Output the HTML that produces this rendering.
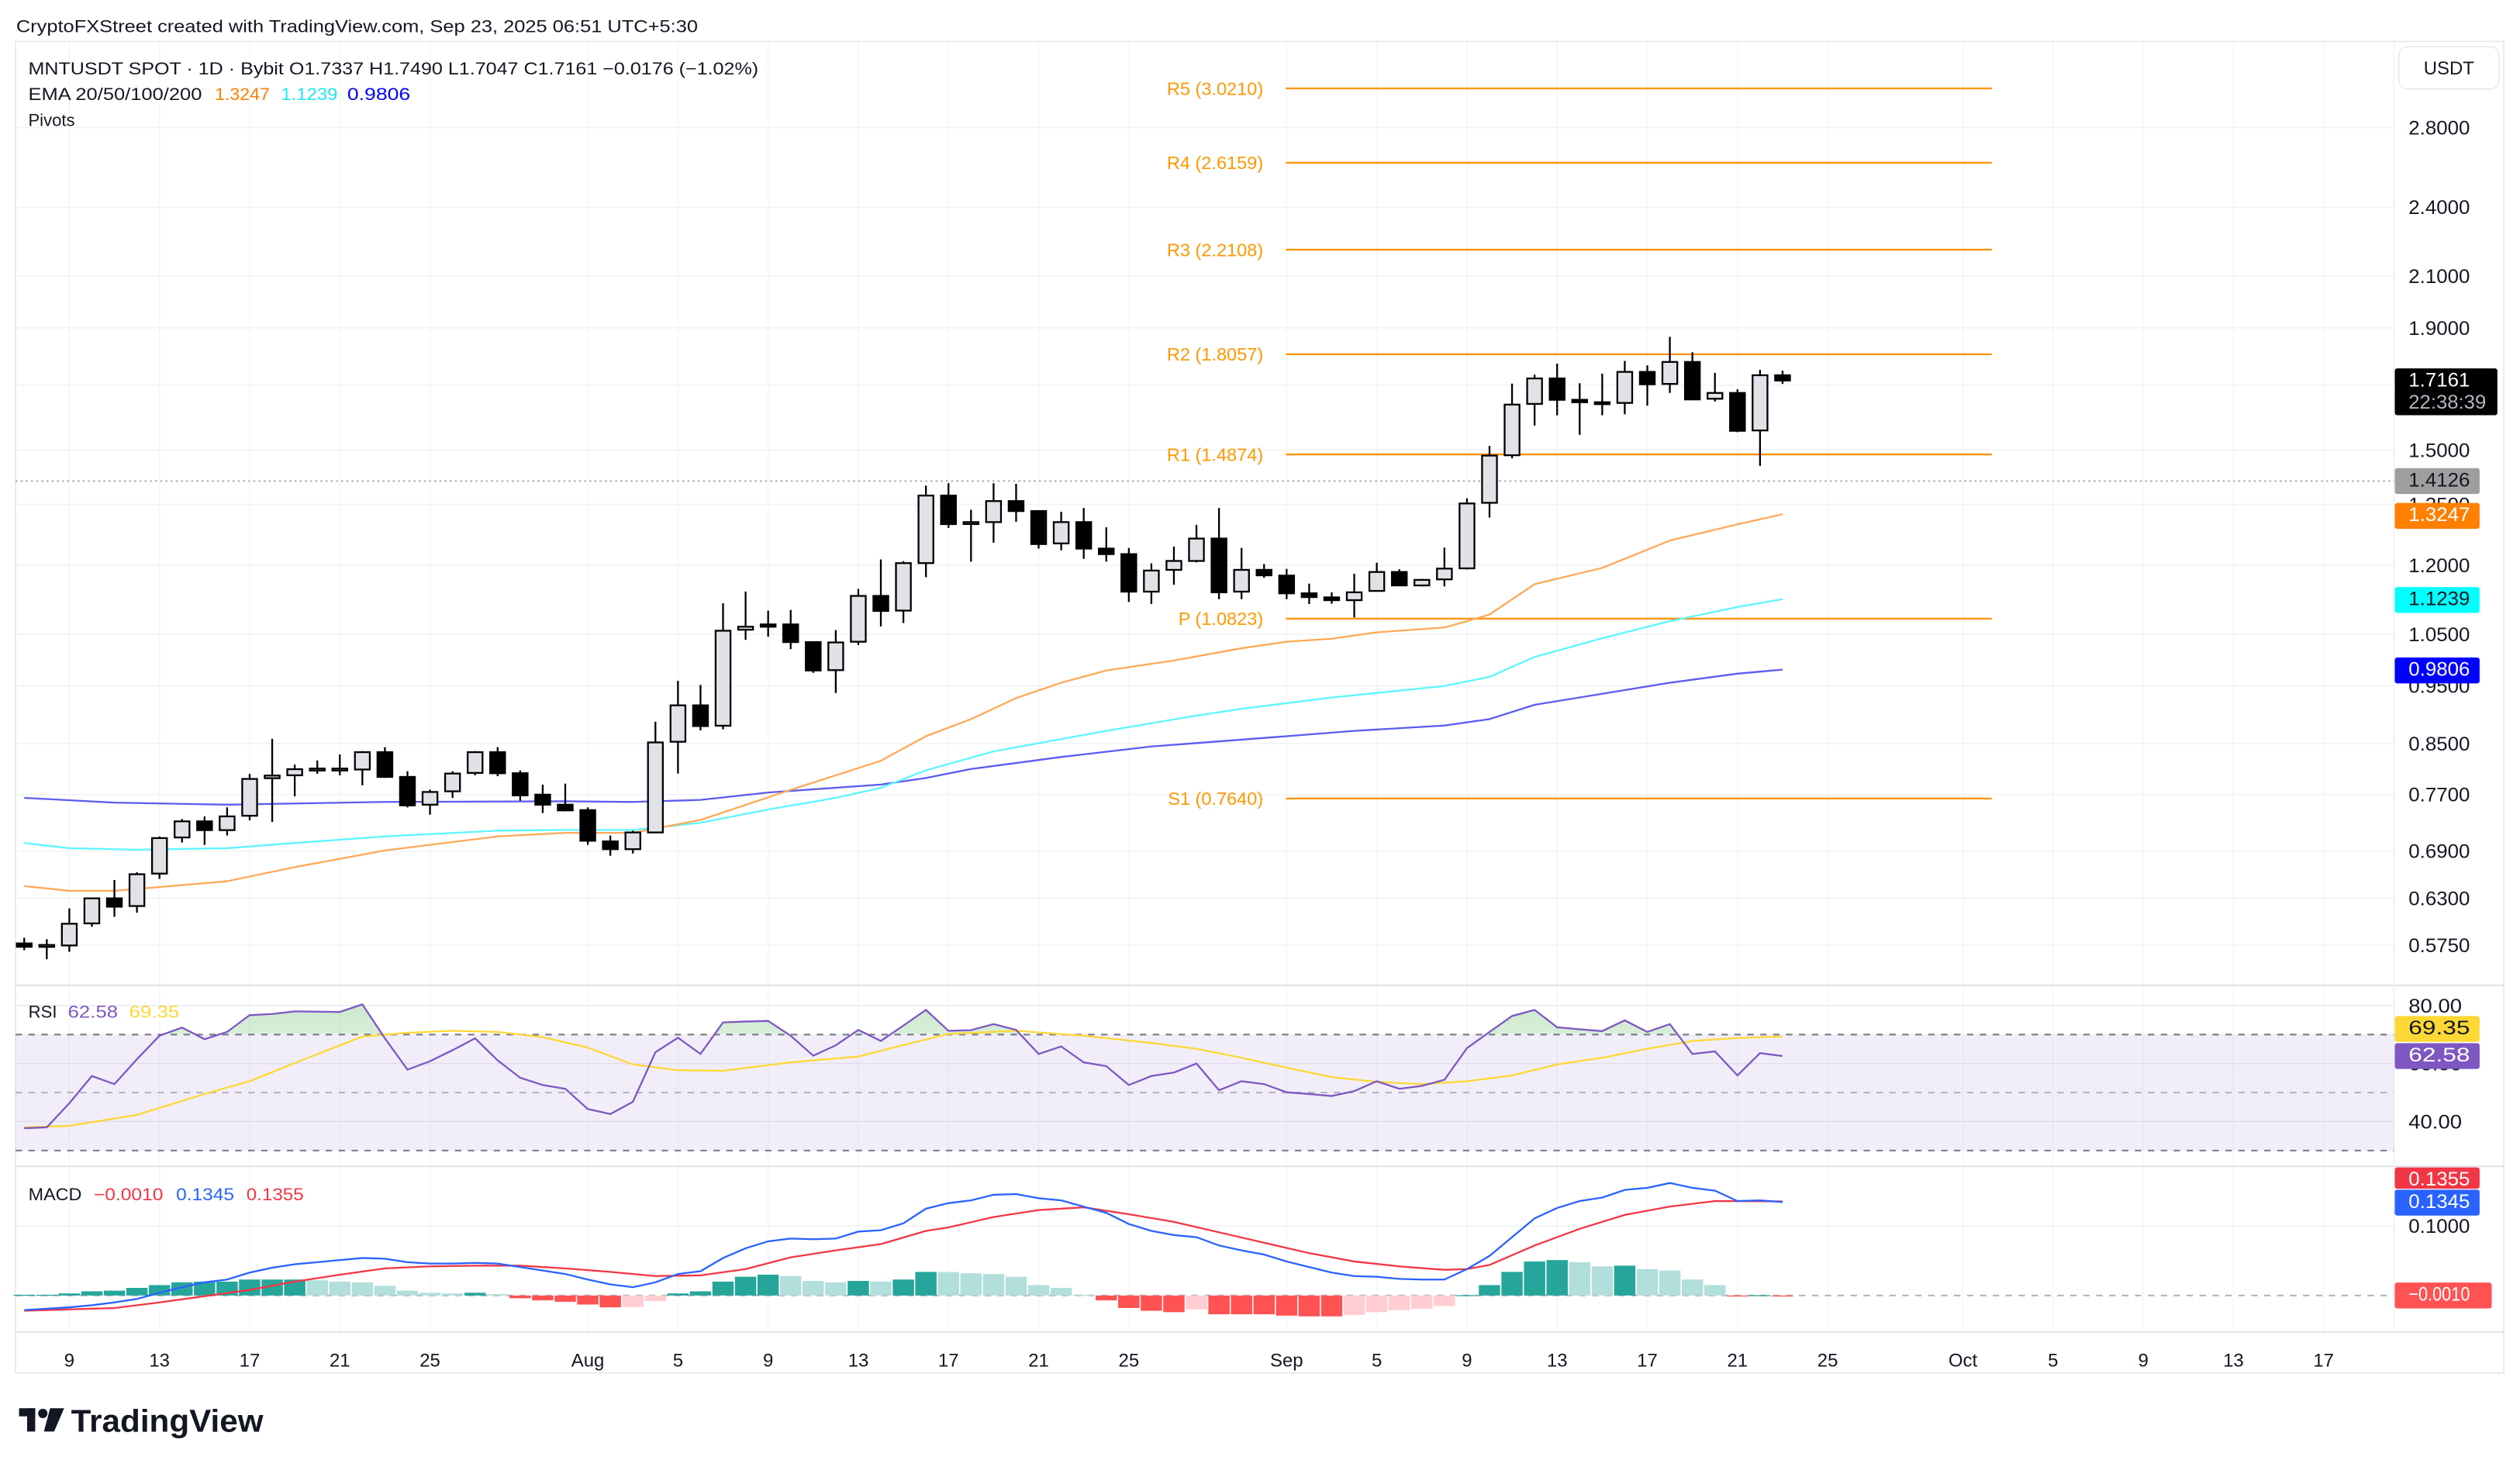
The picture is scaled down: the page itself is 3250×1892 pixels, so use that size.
<!DOCTYPE html>
<html><head><meta charset="utf-8"><title>MNTUSDT chart</title>
<style>
html,body{margin:0;padding:0;background:#fff;}
svg{display:block;font-family:"Liberation Sans",Arial,sans-serif;}
</style></head>
<body>
<svg id="chart" xmlns="http://www.w3.org/2000/svg" width="3250" height="1892" viewBox="0 0 1560 908.16" preserveAspectRatio="none">
<defs>
<linearGradient id="rsiGreen" x1="0" y1="0" x2="0" y2="1">
<stop offset="0" stop-color="#4caf50" stop-opacity="0.28"/>
<stop offset="1" stop-color="#4caf50" stop-opacity="0.02"/>
</linearGradient>
<clipPath id="priceClip"><rect x="9.6" y="25.6" width="1472.4" height="584.4"/></clipPath>
<clipPath id="rsiAbove"><rect x="9.6" y="610" width="1472.4" height="30.2"/></clipPath>
</defs>
<rect x="0" y="0" width="1560" height="908.16" fill="#ffffff"/>
<text x="10" y="20" font-size="10.6" fill="#131722" textLength="422" lengthAdjust="spacingAndGlyphs">CryptoFXStreet created with TradingView.com, Sep 23, 2025 06:51 UTC+5:30</text>
<g id="grid"></g>
<g id="panes"></g>
<g id="price" clip-path="url(#priceClip)"></g>
<g id="rsi"></g>
<g id="macd"></g>
<g id="axes"></g>
<g>
<text x="17.5" y="46" font-size="10.6" fill="#131722" textLength="452" lengthAdjust="spacingAndGlyphs">MNTUSDT SPOT · 1D · Bybit  O1.7337  H1.7490  L1.7047  C1.7161  −0.0176 (−1.02%)</text>
<text x="17.5" y="62" font-size="10.6" fill="#131722" textLength="107.5" lengthAdjust="spacingAndGlyphs">EMA 20/50/100/200</text>
<text x="133" y="62" font-size="10.6" fill="#ff8000" textLength="34" lengthAdjust="spacingAndGlyphs">1.3247</text>
<text x="174" y="62" font-size="10.6" fill="#1de9f0" textLength="35" lengthAdjust="spacingAndGlyphs">1.1239</text>
<text x="215" y="62" font-size="10.6" fill="#0000ff" textLength="39" lengthAdjust="spacingAndGlyphs">0.9806</text>
<text x="17.5" y="78" font-size="10.6" fill="#131722">Pivots</text>
</g>
<g>
<text x="17.6" y="630" font-size="10.6" fill="#131722">RSI</text>
<text x="42" y="630" font-size="10.6" fill="#7e57c2" textLength="31" lengthAdjust="spacingAndGlyphs">62.58</text>
<text x="80" y="630" font-size="10.6" fill="#fdd835" textLength="31" lengthAdjust="spacingAndGlyphs">69.35</text>
</g>
<g>
<text x="17.6" y="743" font-size="10.6" fill="#131722" textLength="33" lengthAdjust="spacingAndGlyphs">MACD</text>
<text x="58" y="743" font-size="10.6" fill="#f23645" textLength="43" lengthAdjust="spacingAndGlyphs">−0.0010</text>
<text x="109" y="743" font-size="10.6" fill="#2962ff" textLength="36" lengthAdjust="spacingAndGlyphs">0.1345</text>
<text x="152.5" y="743" font-size="10.6" fill="#f23645" textLength="35.5" lengthAdjust="spacingAndGlyphs">0.1355</text>
</g>
<g>
<rect x="1485" y="29" width="62" height="26" rx="5" fill="#fff" stroke="#e0e3eb" stroke-width="0.6"/>
<text x="1516" y="46" font-size="11.5" text-anchor="middle" fill="#131722">USDT</text>
</g>
<g>
<rect x="11.8" y="871.8" width="10" height="5" fill="#131722"/>
<rect x="16.8" y="871.8" width="5" height="14.4" fill="#131722"/>
<circle cx="26.5" cy="875" r="2.9" fill="#131722"/>
<polygon points="31,871.8 39.7,871.8 33.5,886.2 27.2,886.2" fill="#131722"/>
<text x="44" y="886.2" font-size="19.5" font-weight="bold" fill="#131722" textLength="119" lengthAdjust="spacingAndGlyphs">TradingView</text>
</g>
<g id="tags"></g>
</svg>
<script>
// ---------- DATA ----------
const opens = [.5772,.5753,.5749,.6000,.6298,.6205,.6607,.7086,.7310,.7187,
.7390,.7947,.7992,.8097,.8097,.8082,.8358,.7967,.7550,.7748,
.8029,.8358,.8024,.7698,.7550,.7471,.7032,.6927,.7155,.8528,
.9151,.8797,1.0594,1.0703,1.0703,1.0343,.9796,1.0350,1.1310,1.0993,
1.2052,1.3735,1.3047,1.3047,1.3589,1.3329,1.2520,1.3047,1.2395,1.2263,
1.1404,1.1895,1.2102,1.2638,1.1404,1.1895,1.1763,1.1367,1.1278,1.1217,
1.1420,1.1846,1.1542,1.1678,1.1930,1.3544,1.4850,1.6401,1.7230,1.6532,
1.6455,1.6433,1.7450,1.7048,1.7789,1.6566,1.6753,1.5580,1.7337];
const closes = [.5734,.5755,.5996,.6298,.6197,.6599,.7077,.7310,.7187,.7381,
.7936,.7988,.8087,.8097,.8097,.8358,.7967,.7540,.7738,.8019,
.8358,.8024,.7688,.7550,.7467,.7041,.6927,.7155,.8517,.9151,
.8791,1.0573,1.0655,1.0655,1.0343,.9790,1.0336,1.1310,1.0986,1.2051,
1.3735,1.2996,1.3047,1.3589,1.3329,1.2504,1.3047,1.2395,1.2263,1.1404,
1.1879,1.2102,1.2638,1.1389,1.1895,1.1769,1.1367,1.1284,1.1217,1.1389,
1.1846,1.1542,1.1666,1.1924,1.3526,1.4840,1.6379,1.7230,1.6532,1.6455,
1.6433,1.7450,1.7037,1.7789,1.6544,1.6753,1.5569,1.7337,1.7161];
const highs = [.5835,.5820,.6177,.6298,.6526,.6624,.7100,.7343,.7381,.7511,
.8014,.8577,.8160,.8224,.8321,.8375,.8439,.8055,.7773,.8055,
.8375,.8439,.8067,.7849,.7864,.7511,.7113,.7178,.8865,.9594,
.9520,1.1149,1.1406,1.0993,1.1007,1.0343,1.0586,1.1465,1.2137,1.2097,
1.4003,1.4069,1.3364,1.4069,1.4050,1.3329,1.3311,1.3410,1.2917,1.2411,
1.2045,1.2444,1.2978,1.3410,1.2411,1.2029,1.1917,1.1582,1.1389,1.1806,
1.2062,1.1909,1.1690,1.2419,1.3662,1.5120,1.7058,1.7356,1.7730,1.7070,
1.7391,1.7825,1.7671,1.8678,1.8126,1.7415,1.6877,1.7519,1.7490];
const lows = [.5696,.5598,.5678,.5961,.6077,.6125,.6540,.7017,.6985,.7113,
.7324,.7301,.7673,.8014,.7992,.7839,.7952,.7510,.7405,.7649,
.7992,.7978,.7609,.7429,.7452,.6985,.6839,.6869,.7155,.8019,
.8717,.8735,1.0389,1.0451,1.0203,.9745,.9373,1.0282,1.0662,1.0731,
1.1729,1.2902,1.2085,1.2537,1.3057,1.2395,1.2354,1.2151,1.2085,1.1178,
1.1134,1.1558,1.2068,1.1239,1.1239,1.1712,1.1239,1.1134,1.1140,1.0849,
1.1404,1.1536,1.1519,1.1519,1.1903,1.3162,1.4761,1.5727,1.6044,1.5447,
1.6044,1.6075,1.6347,1.6753,1.6522,1.6478,1.5528,1.4546,1.7047];

const ema20Idx = [0,2,4,9,12,16,21,24,27,30,34,38,40,42,44,46,48,51,54,56,58,60,63,64,65,67,70,73,76,78];
const ema20Val = [0.645,0.639,0.639,0.651,0.669,0.691,0.710,0.715,0.715,0.733,0.777,0.822,0.862,0.891,0.928,0.956,0.979,0.998,1.022,1.035,1.041,1.054,1.064,1.077,1.091,1.157,1.194,1.259,1.299,1.3247];
const ema50Idx = [0,2,5,9,12,16,21,24,27,30,33,36,38,40,43,48,52,54,58,63,65,67,70,73,76,78];
const ema50Val = [0.701,0.694,0.692,0.694,0.701,0.710,0.718,0.719,0.719,0.729,0.748,0.765,0.780,0.807,0.837,0.871,0.897,0.909,0.929,0.950,0.967,1.005,1.042,1.077,1.107,1.1239];
const ema100Idx = [0,4,9,16,24,27,30,33,38,40,42,46,50,56,59,63,65,67,73,76,78];
const ema100Val = [0.765,0.758,0.755,0.759,0.760,0.759,0.762,0.773,0.785,0.795,0.809,0.828,0.845,0.862,0.871,0.880,0.891,0.916,0.956,0.973,0.9806];

const pivotNames = ['R5','R4','R3','R2','R1','P','S1'];
const pivotVals = [3.0210,2.6159,2.2108,1.8057,1.4874,1.0823,0.7640];

const rsiVals = [37.7,38.0,46.3,55.7,52.9,61.5,69.6,72.4,68.4,70.9,
76.7,77.1,78.0,77.9,77.8,80.4,68.7,57.9,60.8,64.6,
68.7,61.1,55.1,52.6,51.3,44.3,42.6,46.8,63.9,68.9,
63.3,74.2,74.5,74.7,69.6,62.7,66.3,71.6,67.8,73.1,
78.5,71.3,71.5,73.6,71.6,63.3,65.9,60.4,59.1,52.6,
55.7,56.9,60.0,50.8,53.9,52.9,50.1,49.5,48.8,50.5,
53.9,51.3,52.3,54.4,65.3,70.9,76.4,78.5,72.5,71.8,
71.2,74.9,70.9,73.6,63.3,64.2,55.9,63.6,62.58];
const rsiMaIdx = [0,2,5,8,10,12,15,17,19,21,23,25,27,29,31,34,37,39,41,44,47,50,52,54,56,58,60,62,64,66,68,70,72,74,76,78];
const rsiMaVal = [38.0,38.5,42.3,49.5,53.9,60.2,69.3,70.6,71.3,70.9,69.1,65.5,59.7,57.7,57.5,60.4,62.4,66.4,70.2,71.3,69.6,67.1,65.1,62.0,58.6,55.3,53.7,52.9,53.9,55.9,59.7,62.0,65.1,67.8,68.8,69.35];

const macdVals = [-0.021,-0.019,-0.017,-0.014,-0.010,-0.005,0.004,0.012,0.019,0.023,
0.033,0.040,0.045,0.048,0.051,0.054,0.053,0.048,0.046,0.046,
0.047,0.046,0.041,0.036,0.031,0.023,0.016,0.012,0.019,0.031,
0.035,0.054,0.068,0.078,0.082,0.081,0.082,0.092,0.094,0.104,
0.125,0.133,0.137,0.145,0.146,0.140,0.137,0.128,0.119,0.103,
0.093,0.087,0.084,0.072,0.065,0.059,0.049,0.041,0.033,0.028,
0.027,0.024,0.023,0.023,0.038,0.057,0.084,0.111,0.126,0.136,
0.141,0.152,0.155,0.162,0.155,0.151,0.136,0.137,0.1345];
const signalIdx = [0,4,6,8,10,12,14,16,18,20,22,24,26,28,30,32,34,36,38,40,41,43,45,47,49,51,53,55,57,59,61,63,64,65,67,69,71,73,75,78];
const signalVal = [-0.022,-0.018,-0.010,-0.001,0.008,0.020,0.030,0.039,0.042,0.043,0.043,0.039,0.034,0.028,0.029,0.038,0.055,0.065,0.074,0.093,0.098,0.113,0.123,0.127,0.117,0.106,0.091,0.076,0.061,0.049,0.042,0.037,0.038,0.044,0.072,0.096,0.116,0.128,0.136,0.1355];
const histVals = [0.001,0.001,0.003,0.006,0.007,0.011,0.015,0.019,0.020,0.020,
0.023,0.023,0.023,0.022,0.020,0.019,0.014,0.007,0.004,0.003,
0.004,0.002,-0.004,-0.007,-0.009,-0.013,-0.017,-0.0165,-0.008,0.003,
0.006,0.020,0.027,0.030,0.028,0.021,0.019,0.021,0.020,0.023,
0.034,0.0338,0.032,0.031,0.027,0.015,0.011,0.001,-0.007,-0.018,
-0.022,-0.024,-0.020,-0.027,-0.027,-0.027,-0.029,-0.030,-0.030,-0.028,
-0.024,-0.021,-0.019,-0.015,0.0005,0.015,0.034,0.049,0.051,0.048,
0.042,0.043,0.038,0.036,0.023,0.015,-0.0005,0.0005,-0.001];

const priceTicks = [2.8,2.4,2.1,1.9,1.7,1.5,1.35,1.2,1.05,0.95,0.85,0.77,0.69,0.63,0.575];
const rsiTicks = [80,60,40];
const macdTicks = [0.1];
const timeLabels = ['9','13','17','21','25','Aug','5','9','13','17','21','25','Sep','5','9','13','17','21','25','Oct','5','9','13','17'];
const timeIdx = [2,6,10,14,18,25,29,33,37,41,45,49,56,60,64,68,72,76,80,86,90,94,98,102];
const lastClose = 1.7161;
const refLine = 1.4126;

// ---------- AXES ----------
const NS = 'http://www.w3.org/2000/svg';
const L = 9.6, R = 1482, RIGHT = 1550;
const xOf = i => 15 + i * 13.955;
const LN28 = Math.log(2.8);
const yPrice = p => 79 + (LN28 - Math.log(p)) * 319.8;
const yRsi = v => 622.5 + (80 - v) * 1.795;
const yMacd = v => 802 - v * 430;

function mk(tag, attrs, parent) {
  const e = document.createElementNS(NS, tag);
  for (const k in attrs) e.setAttribute(k, attrs[k]);
  parent.appendChild(e);
  return e;
}
const G = id => document.getElementById(id);
const grid = G('grid'), panes = G('panes'), price = G('price'), rsi = G('rsi'), macd = G('macd'), axes = G('axes'), tags = G('tags');

timeIdx.forEach((d, k) => {
  const x = xOf(d);
  if (x > R) return;
  const el = mk('line', {x1: x, x2: x, y1: 25.6, y2: 824.7, stroke: '#f4f5f7', 'stroke-width': 0.7}, grid);
  
  
});
priceTicks.forEach(p => {
  const y = yPrice(p);
  const el = mk('line', {x1: L, x2: R, y1: y, y2: y, stroke: '#f2f3f5', 'stroke-width': 0.8}, grid);
  
  
  const t = mk('text', {x: 1491, y: y + 4.3, 'font-size': 12, fill: '#131722', textLength: 38, lengthAdjust: 'spacingAndGlyphs'}, axes);
  t.textContent = p.toFixed(4);
  
  
});
rsiTicks.forEach(v => {
  const y = yRsi(v);
  const el = mk('line', {x1: L, x2: R, y1: y, y2: y, stroke: '#ececf2', 'stroke-width': 0.8}, grid);
  
  
  const t = mk('text', {x: 1491, y: y + 4.3, 'font-size': 12, fill: '#131722', textLength: 33, lengthAdjust: 'spacingAndGlyphs'}, axes);
  t.textContent = v.toFixed(2);
  
  
});
macdTicks.forEach(v => {
  const y = yMacd(v);
  const el = mk('line', {x1: L, x2: R, y1: y, y2: y, stroke: '#f2f3f5', 'stroke-width': 0.8}, grid);
  
  
  const t = mk('text', {x: 1491, y: y + 4.3, 'font-size': 12, fill: '#131722', textLength: 38, lengthAdjust: 'spacingAndGlyphs'}, axes);
  t.textContent = v.toFixed(4);
  
  
});
timeIdx.forEach((d, k) => {
  const t = mk('text', {x: xOf(d), y: 846, 'font-size': 11.5, fill: '#131722', 'text-anchor': 'middle'}, axes);
  t.textContent = timeLabels[k];
  
  
});

{
  const el = mk('rect', {x: L, y: 25.6, width: RIGHT - L, height: 850 - 25.6, fill: 'none', stroke: '#e6e8ee', 'stroke-width': 0.8}, panes);
  
  
}
[610, 722, 824.7].forEach(y => {
  const el = mk('line', {x1: L, x2: RIGHT, y1: y, y2: y, stroke: '#e0e3eb', 'stroke-width': 1}, panes);
  
  
});
{
  const el = mk('line', {x1: R, x2: R, y1: 25.6, y2: 824.7, stroke: '#eef0f3', 'stroke-width': 0.8}, panes);
  
  
}

// ---------- PRICE PANE ----------
{
  const y = yPrice(refLine);
  const el = mk('line', {x1: L, x2: R, y1: y, y2: y, stroke: '#9598a1', 'stroke-width': 0.8, 'stroke-dasharray': '1.2 2'}, price);
  
  
}
pivotVals.forEach((v, k) => {
  const y = yPrice(v);
  const ln = mk('line', {x1: 796, x2: 1233, y1: y, y2: y, stroke: '#ff9100', 'stroke-width': 1.1}, price);
  
  
  const t = mk('text', {x: 782, y: y + 4, 'font-size': 11.3, fill: '#ff9800', 'text-anchor': 'end'}, price);
  t.textContent = pivotNames[k] + ' (' + v.toFixed(4) + ')';
  
  
});
function linePath(idx, val, yf) {
  return idx.map((d, k) => (k ? 'L' : 'M') + xOf(d).toFixed(2) + ' ' + yf(val[k]).toFixed(2)).join(' ');
}
[[ema100Idx, ema100Val, '#5b5bf2', 'ema100-line'], [ema50Idx, ema50Val, '#5ef6ff', 'ema50-line'], [ema20Idx, ema20Val, '#ffa858', 'ema20-line']].forEach(([ix, vs, c, n]) => {
  const el = mk('path', {d: linePath(ix, vs, yPrice), fill: 'none', stroke: c, 'stroke-width': 1.1, 'stroke-linejoin': 'round'}, price);
  
  
});
opens.forEach((o, i) => {
  const c = closes[i], x = xOf(i);
  const up = c >= o;
  const w = mk('line', {x1: x, x2: x, y1: yPrice(highs[i]), y2: yPrice(lows[i]), stroke: '#000', 'stroke-width': 1.1}, price);
  
  
  const yt = yPrice(Math.max(o, c)), yb = yPrice(Math.min(o, c));
  const b = mk('rect', {x: x - 4.6, y: yt, width: 9.2, height: Math.max(yb - yt, 1.2), fill: up ? '#e0e2e8' : '#000', stroke: '#000', 'stroke-width': 1.1}, price);
  
  
});

// ---------- RSI PANE ----------
{
  const band = mk('rect', {x: L, y: yRsi(70), width: R - L, height: yRsi(30) - yRsi(70), fill: '#7e57c2', 'fill-opacity': 0.1}, rsi);
  
  
  [[70, '#787b86', 'rsi-upper-band'], [50, '#b2b5be', 'rsi-middle-band'], [30, '#787b86', 'rsi-lower-band']].forEach(([v, c, n]) => {
    const el = mk('line', {x1: L, x2: R, y1: yRsi(v), y2: yRsi(v), stroke: c, 'stroke-width': 1, 'stroke-dasharray': '4 4'}, rsi);
    
    
  });
  const pts = rsiVals.map((v, i) => xOf(i).toFixed(2) + ',' + yRsi(v).toFixed(2));
  const y70 = yRsi(70);
  const fillPts = xOf(0) + ',' + y70 + ' ' + pts.join(' ') + ' ' + xOf(rsiVals.length - 1) + ',' + y70;
  const gf = mk('polygon', {points: fillPts, fill: 'url(#rsiGreen)', 'clip-path': 'url(#rsiAbove)'}, rsi);
  
  
  const ma = mk('path', {d: linePath(rsiMaIdx, rsiMaVal, yRsi), fill: 'none', stroke: '#fdd835', 'stroke-width': 1.1}, rsi);
  
  
  const ln = mk('polyline', {points: pts.join(' '), fill: 'none', stroke: '#7e57c2', 'stroke-width': 1.1}, rsi);
  
  
}

// ---------- MACD PANE ----------
{
  const z = mk('line', {x1: L, x2: R, y1: yMacd(0), y2: yMacd(0), stroke: '#b2b5be', 'stroke-width': 1, 'stroke-dasharray': '4 4'}, macd);
  
  
  histVals.forEach((h, i) => {
    const prev = i ? histVals[i - 1] : 0;
    let col;
    if (h >= 0) col = h >= prev ? '#26a69a' : '#b2dfdb';
    else col = h <= prev ? '#ff5252' : '#ffcdd2';
    const y0 = yMacd(0), y1 = yMacd(h);
    const r = mk('rect', {x: xOf(i) - 6.6, y: Math.min(y0, y1), width: 13.2, height: Math.max(Math.abs(y1 - y0), 0.6), fill: col}, macd);
    
    
  });
  const sg = mk('path', {d: linePath(signalIdx, signalVal, yMacd), fill: 'none', stroke: '#f23645', 'stroke-width': 1.1}, macd);
  
  
  const ml = mk('polyline', {points: macdVals.map((v, i) => xOf(i).toFixed(2) + ',' + yMacd(v).toFixed(2)).join(' '), fill: 'none', stroke: '#2962ff', 'stroke-width': 1.1}, macd);
  
  
}

// ---------- AXIS TAGS ----------
function tag(yc, h, w, bg, fg, lines, name) {
  const r = mk('rect', {x: 1482.5, y: yc - h / 2, width: w, height: h, rx: 1.5, fill: bg}, tags);
  
  
  lines.forEach((s, k) => {
    const t = mk('text', {x: 1491, y: yc - h / 2 + 11.3 + k * 13.5, 'font-size': 12, fill: k ? '#b2b5be' : fg, textLength: s.length > 7 ? 48 : 38, lengthAdjust: 'spacingAndGlyphs'}, tags);
    t.textContent = s;
    
    
  });
}
tag(yPrice(lastClose) + 7, 29, 63.5, '#000000', '#ffffff', [lastClose.toFixed(4), '22:38:39'], 'last-price-tag');
tag(yPrice(refLine), 16, 52.5, '#9e9e9e', '#131722', [refLine.toFixed(4)], 'reference-price-tag');
tag(yPrice(ema20Val[ema20Val.length - 1]) + 1, 16, 52.5, '#ff7f00', '#ffffff', [ema20Val[ema20Val.length - 1].toFixed(4)], 'ema20-tag');
tag(yPrice(ema50Val[ema50Val.length - 1]) + 0.5, 16, 52.5, '#00ffff', '#131722', [ema50Val[ema50Val.length - 1].toFixed(4)], 'ema50-tag');
tag(yPrice(ema100Val[ema100Val.length - 1]) + 0.5, 16, 52.5, '#0000ff', '#ffffff', [ema100Val[ema100Val.length - 1].toFixed(4)], 'ema100-tag');
tag(637, 16, 52.5, '#fdd835', '#131722', [rsiMaVal[rsiMaVal.length - 1].toFixed(2)], 'rsi-ma-tag');
tag(yRsi(rsiVals[rsiVals.length - 1]), 16, 52.5, '#7e57c2', '#ffffff', [rsiVals[rsiVals.length - 1].toFixed(2)], 'rsi-tag');
tag(729.3, 13.2, 52.5, '#f23645', '#ffffff', [signalVal[signalVal.length - 1].toFixed(4)], 'macd-signal-tag');
tag(744.5, 16, 52.5, '#2962ff', '#ffffff', [macdVals[macdVals.length - 1].toFixed(4)], 'macd-line-tag');
tag(802, 16, 60, '#ff5252', '#ffffff', ['\u22120.0010'], 'macd-histogram-tag');
</script>
</body></html>
